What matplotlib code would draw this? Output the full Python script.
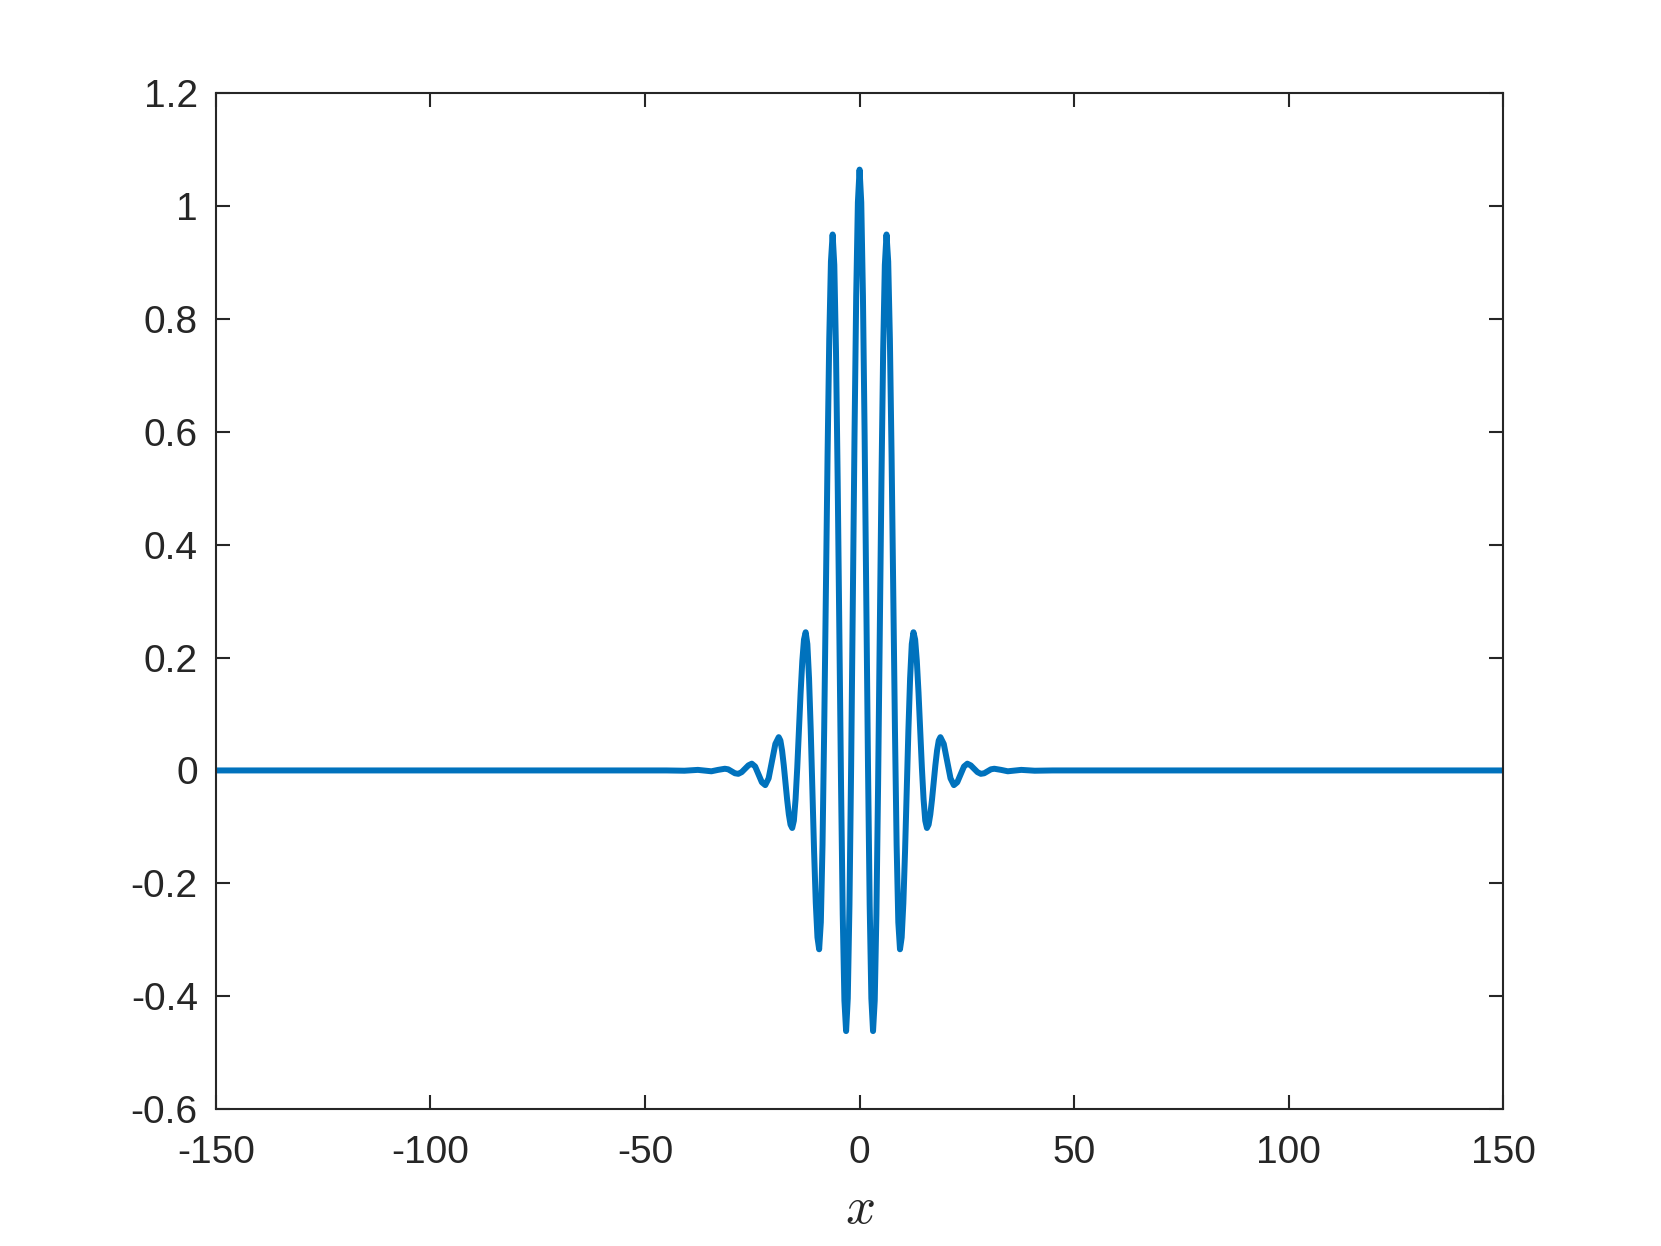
import matplotlib
matplotlib.use("Agg")
import matplotlib.pyplot as plt

# Curve: extrema plus in-between points of each swing
x_left = [-150, -45, -40.82, -37.68, -36.11, -34.54, -32.97,
          -31.4, -30.615, -29.83, -29.045,
          -28.26, -27.475, -26.69, -25.905,
          -25.12, -24.335, -23.55, -22.765,
          -21.98, -21.195, -20.41, -19.625,
          -18.84, -18.4475, -18.055, -17.6625, -17.27, -16.8775, -16.485, -16.0925,
          -15.7, -15.3075, -14.915, -14.5225, -14.13, -13.7375, -13.345, -12.9525,
          -12.56, -12.1675, -11.775, -11.3825, -10.99, -10.5975, -10.205, -9.8125,
          -9.42, -9.0275, -8.635, -8.2425, -7.85, -7.4575, -7.065, -6.6725,
          -6.28, -5.8875, -5.495, -5.1025, -4.71, -4.3175, -3.925, -3.5325,
          -3.14, -2.7475, -2.355, -1.9625, -1.57, -1.1775, -0.785, -0.3925]
y_left = [0, 0, -0.0005, 0.001, -0.0003, -0.0015, 0.001,
          0.003, 0.002, -0.0015, -0.005,
          -0.006, -0.003, 0.003, 0.009,
          0.012, 0.007, -0.007, -0.021,
          -0.026, -0.014, 0.017, 0.047,
          0.059, 0.053, 0.035, 0.009, -0.022, -0.052, -0.078, -0.096,
          -0.102, -0.089, -0.051, 0.005, 0.072, 0.138, 0.194, 0.232,
          0.245, 0.224, 0.163, 0.072, -0.036, -0.144, -0.235, -0.296,
          -0.317, -0.269, -0.132, 0.074, 0.317, 0.559, 0.765, 0.902,
          0.95, 0.896, 0.743, 0.514, 0.244, -0.026, -0.255, -0.408,
          -0.462, -0.404, -0.238, 0.009, 0.302, 0.594, 0.841, 1.007]
x_right = [0, 0.3925, 0.785, 1.1775, 1.57, 1.9625, 2.355, 2.7475, 3.14,
           3.5325, 3.925, 4.3175, 4.71, 5.1025, 5.495, 5.8875, 6.28,
           6.6725, 7.065, 7.4575, 7.85, 8.2425, 8.635, 9.0275, 9.42,
           9.8125, 10.205, 10.5975, 10.99, 11.3825, 11.775, 12.1675, 12.56,
           12.9525, 13.345, 13.7375, 14.13, 14.5225, 14.915, 15.3075, 15.7,
           16.0925, 16.485, 16.8775, 17.27, 17.6625, 18.055, 18.4475, 18.84,
           19.625, 20.41, 21.195, 21.98,
           22.765, 23.55, 24.335, 25.12,
           25.905, 26.69, 27.475, 28.26,
           29.045, 29.83, 30.615, 31.4,
           32.97, 34.54, 36.11, 37.68, 40.82, 45, 150]
y_right = [1.065, 1.007, 0.841, 0.594, 0.302, 0.009, -0.238, -0.404, -0.462,
           -0.408, -0.255, -0.026, 0.244, 0.514, 0.743, 0.896, 0.95,
           0.902, 0.765, 0.559, 0.317, 0.074, -0.132, -0.269, -0.317,
           -0.296, -0.235, -0.144, -0.036, 0.072, 0.163, 0.224, 0.245,
           0.232, 0.194, 0.138, 0.072, 0.005, -0.051, -0.089, -0.102,
           -0.096, -0.078, -0.052, -0.022, 0.009, 0.035, 0.053, 0.059,
           0.047, 0.017, -0.014, -0.026,
           -0.021, -0.007, 0.007, 0.012,
           0.009, 0.003, -0.003, -0.006,
           -0.005, -0.0015, 0.002, 0.003,
           0.001, -0.0015, -0.0003, 0.001, -0.0005, 0, 0]

x_ticks = [-150, -100, -50, 0, 50, 100, 150]
y_ticks = [-0.6, -0.4, -0.2, 0, 0.2, 0.4, 0.6, 0.8, 1, 1.2]
y_tick_labels = ["-0.6", "-0.4", "-0.2", "0", "0.2", "0.4", "0.6", "0.8", "1", "1.2"]

plt.rcParams["font.family"] = ["Liberation Sans", "DejaVu Sans"]
plt.rcParams["mathtext.fontset"] = "cm"

fig = plt.figure(figsize=(16.61, 12.46), dpi=100)
ax = fig.add_axes([0.13, 0.11, 0.775, 0.815])

ax.plot(x_left + x_right, y_left + y_right, color="#0072BD", lw=4.3,
        solid_joinstyle="round", solid_capstyle="round")

ax.set_xlim(-150, 150)
ax.set_ylim(-0.6, 1.2)
ax.set_xticks(x_ticks)
ax.set_xticklabels([str(t) for t in x_ticks])
ax.set_yticks(y_ticks)
ax.set_yticklabels(y_tick_labels)

dark = "#262626"
for s in ax.spines.values():
    s.set_color(dark)
    s.set_linewidth(1.5)
ax.tick_params(direction="in", length=10, width=1.5, color=dark,
               labelcolor=dark, labelsize=28, top=True, right=True)
ax.tick_params(axis="x", pad=19)
ax.tick_params(axis="y", pad=13)

ax.set_xlabel("$x$", fontsize=38, color=dark, labelpad=9)

fig.savefig("out.png", dpi=100)
